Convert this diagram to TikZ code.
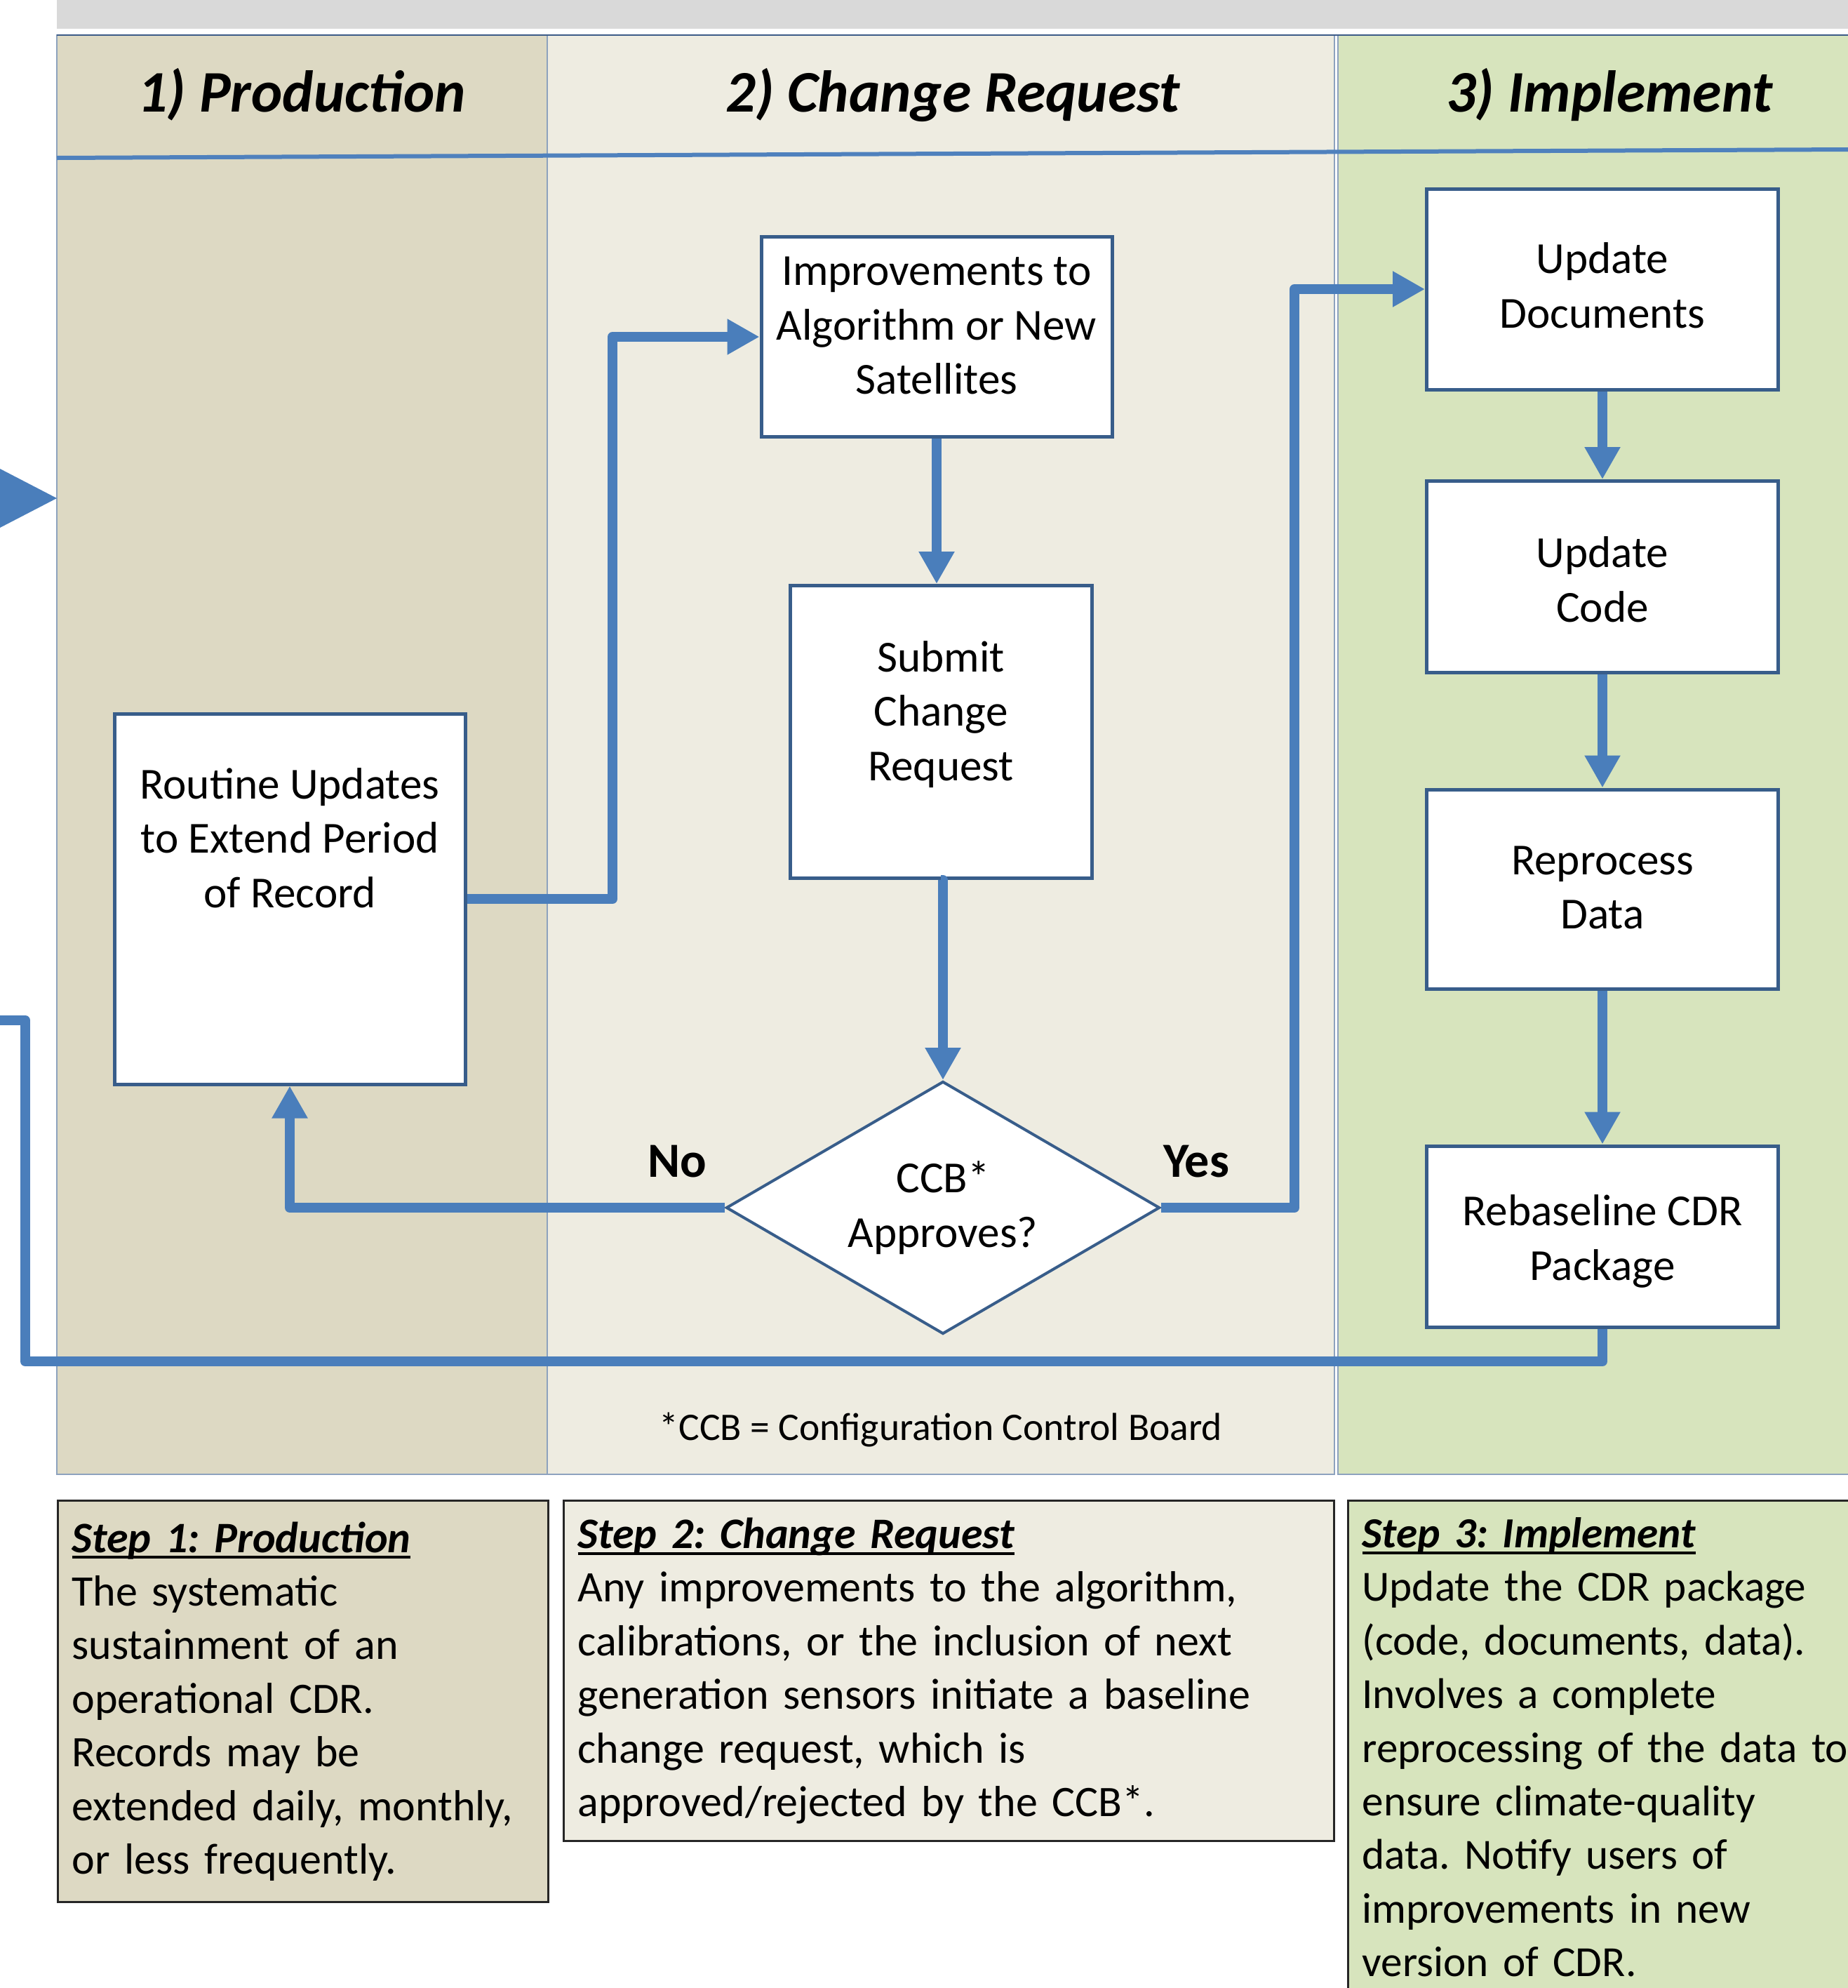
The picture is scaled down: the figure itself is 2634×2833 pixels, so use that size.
\documentclass[tikz,border=0pt]{standalone}
\usepackage{fontspec}
\setmainfont{Carlito}
\usetikzlibrary{arrows.meta,shapes.geometric}
\definecolor{laneA}{HTML}{DDD9C3}
\definecolor{laneB}{HTML}{EEECE1}
\definecolor{laneC}{HTML}{D7E4BD}
\definecolor{topgray}{HTML}{D9D9D9}
\definecolor{flowblue}{HTML}{4A7EBB}
\definecolor{boxblue}{HTML}{385D8A}
\definecolor{laneline}{HTML}{8DA2BE}
\definecolor{headline}{HTML}{4F81BD}
\definecolor{topline}{HTML}{3B5A87}
\frenchspacing
\newcommand\steptitle[1]{\setbox0\hbox{\textbf{\textit{#1}}}\rlap{\rule[-0.15em]{\wd0}{0.065em}}\box0}
\begin{document}
\begin{tikzpicture}[x=0.5pt,y=-0.5pt,
  lane/.style={draw=laneline, line width=1pt},
  flow/.style={draw=flowblue, line width=7pt, line join=round, -{Triangle[length=23pt,width=24pt]}},
  plainflow/.style={draw=flowblue, line width=7pt, line join=round},
  boxtxt/.style={font=\fontsize{31.6}{38.8}\selectfont, align=center},
  flowbox/.style={draw=boxblue, line width=2.5pt, fill=white, inner sep=0pt, boxtxt},
  title/.style={font=\fontsize{42}{50}\selectfont\bfseries\itshape},
  yn/.style={font=\fontsize{35}{42}\selectfont\bfseries},
  stepbox/.style={draw=black!85, line width=1.5pt, align=left, anchor=north west, inner xsep=10pt, inner ysep=8pt, font=\fontsize{31}{38.2}\selectfont}
]
\useasboundingbox (0,0) rectangle (2634,2833);
\fill[white] (0,0) rectangle (2634,2833);
% top gray bar
\fill[topgray] (81,0) rectangle (2634,41);
% lanes
\filldraw[lane, fill=laneA] (81,50) rectangle (780,2101);
\filldraw[lane, fill=laneB] (780,50) rectangle (1902,2101);
\filldraw[lane, fill=laneC] (1907,50) rectangle (2660,2101);
\draw[topline, line width=1pt] (81,50) -- (2634,50);
\draw[headline, line width=3pt] (81,225) -- (2634,213);
% lane titles
\node[title] (t1) at (430,135) {1) Production};
\node[title] (t2) at (1358,135) {2) Change Request};
\node[title] (t3) at (2294,135) {3) Implement};
% incoming triangle
\fill[flowblue] (0,668) -- (81,710) -- (0,752) -- cycle;
% boxes
\node[flowbox, minimum width=250pt, minimum height=264pt, label={[boxtxt, yshift=43.5pt]center:Routine Updates\\to Extend Period\\of Record}] (rout) at (413,1281) {};
\node[flowbox, minimum width=250pt, minimum height=142.5pt, label={[boxtxt, yshift=8pt]center:Improvements to\\Algorithm or New\\Satellites}] (impr) at (1335,480) {};
\node[flowbox, minimum width=215pt, minimum height=208.5pt, label={[boxtxt, yshift=12.5pt]center:Submit\\Change\\Request}] (subm) at (1341,1043) {};
\node[draw=boxblue, line width=2pt, fill=white, shape=diamond, aspect=1.717, minimum width=309pt, minimum height=180pt, inner sep=0pt, boxtxt] (ccb) at (1344,1721) {CCB*\\Approves?};
\node[flowbox, minimum width=250.5pt, minimum height=143pt, label={[boxtxt, yshift=2.5pt]center:Update\\Documents}] (docs) at (2284,412) {};
\node[flowbox, minimum width=250.5pt, minimum height=136.5pt, label={[boxtxt, yshift=-2pt]center:Update\\Code}] (code) at (2284,822) {};
\node[flowbox, minimum width=250.5pt, minimum height=142pt, label={[boxtxt, yshift=1pt]center:Reprocess\\Data}] (repr) at (2284,1267) {};
\node[flowbox, minimum width=250.5pt, minimum height=129pt, label={[boxtxt, yshift=-3.5pt]center:Rebaseline CDR\\Package}] (reb) at (2284,1762) {};
% labels
\node[yn] (no) at (965,1655) {No};
\node[yn] (yes) at (1705,1655) {Yes};
\node[font=\fontsize{27.8}{33}\selectfont] (foot) at (1341,2038) {*CCB = Configuration Control Board};
% connectors
\draw[flow] (rout.east) -| (873,480) -- (impr.west);
\draw[flow] (impr.south) -- (impr.south |- subm.north);
\draw[flow] (subm.south) -- (subm.south -| ccb.north) -- (ccb.north);
\draw[flow] (ccb.west) -| (rout.south);
\draw[flow] (ccb.east) -| (1845,412) -- (docs.west);
\draw[flow] (docs.south) -- (code.north);
\draw[flow] (code.south) -- (repr.north);
\draw[flow] (repr.south) -- (reb.north);
\coordinate (loopend) at (-20,1454);
\draw[plainflow] (reb.south) |- (36,1940) |- (loopend);
% step boxes
\node[stepbox, fill=laneA, text width=329.5pt, minimum height=286pt] (s1) at (81,2137)
 {\steptitle{Step 1: Production}\\The systematic\\sustainment of an\\operational CDR.\\Records may be\\extended daily, monthly,\\or less frequently.};
\node[stepbox, fill=laneB, text width=529pt, minimum height=242.5pt] (s2) at (802,2137)
 {\steptitle{Step 2: Change Request}\\Any improvements to the algorithm,\\calibrations, or the inclusion of next\\generation sensors initiate a baseline\\change request, which is\\approved/rejected by the CCB*.};
\node[stepbox, fill=laneC, text width=380pt, inner ysep=12pt, font=\fontsize{30.6}{38.2}\selectfont] (s3) at (1920,2137)
 {\steptitle{Step 3: Implement}\\Update the CDR package\\(code, documents, data).\\Involves a complete\\reprocessing of the data to\\ensure climate-quality\\data. Notify users of\\improvements in new\\version of CDR.};
\end{tikzpicture}
\end{document}
